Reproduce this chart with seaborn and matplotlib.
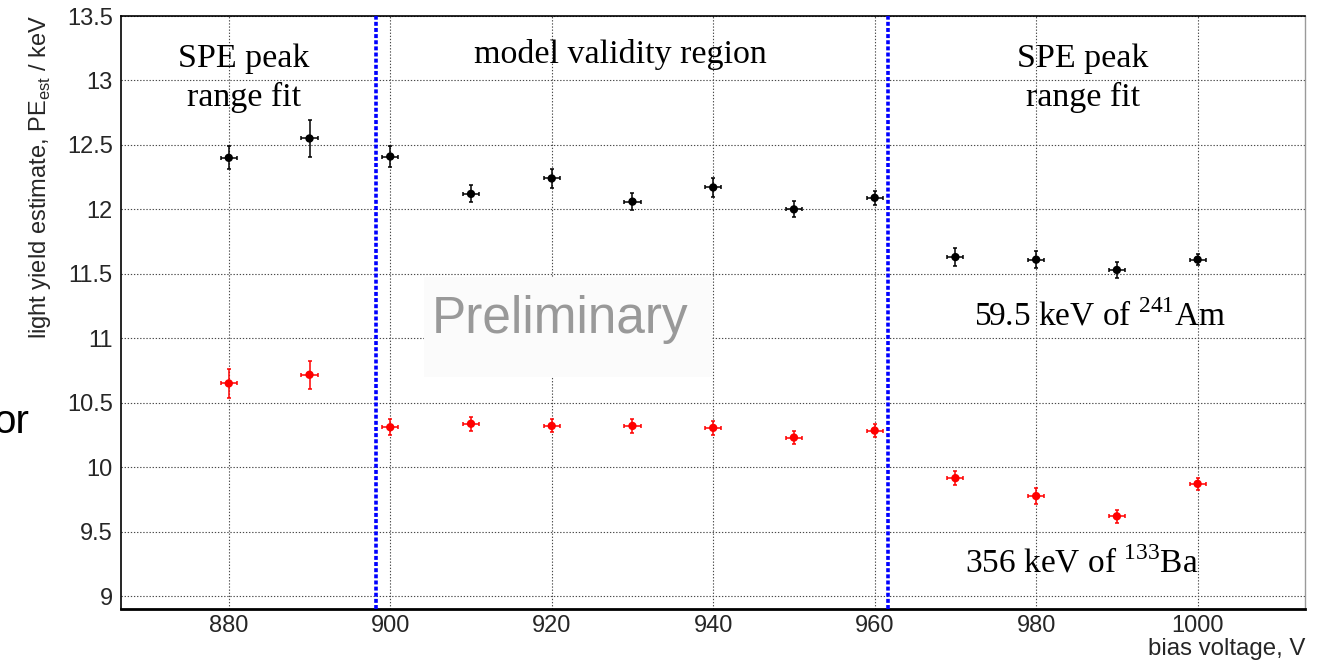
import matplotlib
matplotlib.use("Agg")
import matplotlib.pyplot as plt
import matplotlib.patches as mpatches
from matplotlib.ticker import MultipleLocator, FormatStrFormatter
import seaborn as sns
import pandas as pd

# Bias voltage scan: light yield estimates for two gamma lines
voltage = [880, 890, 900, 910, 920, 930, 940, 950, 960, 970, 980, 990, 1000]
voltage_err = [1.0] * len(voltage)

am_yield = [12.40, 12.55, 12.41, 12.12, 12.24, 12.06, 12.17, 12.00, 12.09,
            11.63, 11.61, 11.53, 11.61]
am_err = [0.09, 0.14, 0.08, 0.066, 0.075, 0.065, 0.073, 0.062, 0.055,
          0.068, 0.067, 0.060, 0.045]

ba_yield = [10.65, 10.717, 10.31, 10.337, 10.32, 10.32, 10.305, 10.23, 10.284,
            9.915, 9.776, 9.619, 9.871]
ba_err = [0.114, 0.110, 0.062, 0.053, 0.050, 0.054, 0.053, 0.050, 0.049,
          0.054, 0.060, 0.050, 0.048]

region_bounds = [898.2, 961.6]

sns.set_style("white")
plt.rcParams["font.family"] = ["Liberation Sans", "DejaVu Sans"]
plt.rcParams["mathtext.fontset"] = "custom"
plt.rcParams["mathtext.rm"] = "Liberation Serif"
plt.rcParams["mathtext.sf"] = "Liberation Sans"

W, H = 1326, 660
fig = plt.figure(figsize=(W / 100, H / 100), dpi=100)
ax = fig.add_axes([121 / W, 1 - 609 / H, (1305 - 121) / W, (609 - 16) / H])


def fpos(x, y):
    return x / W, 1 - y / H


df = pd.DataFrame({
    "voltage": voltage * 2,
    "yield": am_yield + ba_yield,
    "source": ["Am"] * len(voltage) + ["Ba"] * len(voltage),
})

for vals, errs, col in [(am_yield, am_err, "black"), (ba_yield, ba_err, "#ff0000")]:
    ax.errorbar(voltage, vals, xerr=voltage_err, yerr=errs, fmt="none",
                ecolor=col, elinewidth=1.1, capsize=1.5, capthick=1.1, zorder=4)

sns.scatterplot(data=df, x="voltage", y="yield", hue="source",
                palette={"Am": "black", "Ba": "#ff0000"}, s=36,
                edgecolor="none", legend=False, ax=ax, zorder=5)

for xb in region_bounds:
    ax.axvline(xb, color="#0000ff", lw=2.6, linestyle=(0, (1.1, 0.6)), zorder=3)

ax.set_xlim(866.65, 1013.3)
ax.set_ylim(8.9, 13.5)
ax.set_xlabel("")
ax.set_ylabel("")

ax.xaxis.set_major_locator(MultipleLocator(20))
ax.xaxis.set_minor_locator(MultipleLocator(5))
ax.yaxis.set_major_locator(MultipleLocator(0.5))
ax.yaxis.set_minor_locator(MultipleLocator(0.1))
ax.yaxis.set_major_formatter(FormatStrFormatter("%g"))

ax.tick_params(axis="x", which="major", direction="in", length=14, width=1,
               color="black", labelsize=17, pad=4)
ax.tick_params(axis="x", which="minor", direction="in", length=7, width=1,
               color="black")
ax.tick_params(axis="y", which="major", direction="in", length=26, width=1,
               color="black", labelsize=17, pad=6)
ax.tick_params(axis="y", which="minor", direction="in", length=12.5, width=1,
               color="black")

ax.grid(which="major", color="#4a4a4a", linestyle=(0, (1.2, 1.6)), lw=0.8)
ax.set_axisbelow(True)

for side in ["left", "top"]:
    ax.spines[side].set_color("black")
    ax.spines[side].set_linewidth(1.2)
ax.spines["bottom"].set_color("black")
ax.spines["bottom"].set_linewidth(2.0)
ax.spines["right"].set_color("#9a9a9a")
ax.spines["right"].set_linewidth(1.0)

# "Preliminary" stamp
x0, y0 = fpos(424, 377)
x1, y1 = fpos(712, 277)
ax.add_patch(mpatches.Rectangle((x0, y0), x1 - x0, y1 - y0, transform=fig.transFigure,
                                facecolor="#fbfbfb", edgecolor="none", zorder=2))
fig.text(*fpos(432, 333), "Preliminary", fontsize=37, color="#999999",
         ha="left", va="baseline", family="Liberation Sans")

serif = dict(family="Liberation Serif", color="black", ha="center", va="center")
fig.text(*fpos(244, 78), "SPE peak\nrange fit", fontsize=24.5, linespacing=1.34, **serif)
fig.text(*fpos(1083, 78), "SPE peak\nrange fit", fontsize=24.5, linespacing=1.34, **serif)
fig.text(*fpos(620, 54), "model validity region", fontsize=24.5, **serif)
fig.text(*fpos(1100, 316), r"59.5 keV of $^{\mathrm{241}}$Am", fontsize=24, **serif)
fig.text(*fpos(1082, 563), r"356 keV of $^{\mathrm{133}}$Ba", fontsize=24, **serif)

fig.text(*fpos(40, 15), r"light yield estimate, PE$_{\mathsf{est}}$ / keV",
         rotation=90, fontsize=17, ha="center", va="top")
fig.text(*fpos(1305, 655), "bias voltage, V", fontsize=17.3, ha="right", va="baseline")

fig.text(*fpos(-7, 433), "or", fontsize=29, ha="left", va="baseline", color="black")

fig.savefig("out.png", dpi=100)
